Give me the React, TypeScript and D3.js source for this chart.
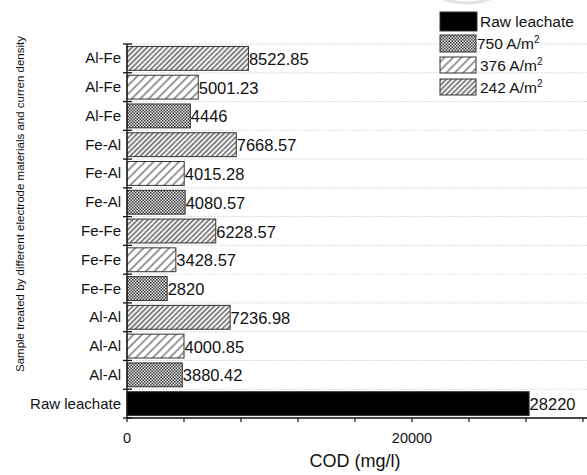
import React from 'react';
import * as d3 from 'd3';

const categories = ['Al-Fe', 'Al-Fe', 'Al-Fe', 'Fe-Al', 'Fe-Al', 'Fe-Al', 'Fe-Fe', 'Fe-Fe', 'Fe-Fe', 'Al-Al', 'Al-Al', 'Al-Al', 'Raw leachate'];
const codValues = [8522.85, 5001.23, 4446, 7668.57, 4015.28, 4080.57, 6228.57, 3428.57, 2820, 7236.98, 4000.85, 3880.42, 28220];
const valueLabels = ['8522.85', '5001.23', '4446', '7668.57', '4015.28', '4080.57', '6228.57', '3428.57', '2820', '7236.98', '4000.85', '3880.42', '28220'];
const seriesOf = ['242', '376', '750', '242', '376', '750', '242', '376', '750', '242', '376', '750', 'raw'];
const legendKeys = ['raw', '750', '376', '242'];
const legendLabels = ['Raw leachate', '750 A/m', '376 A/m', '242 A/m'];
const xTicks = [0, 4000, 8000, 12000, 16000, 20000, 24000, 28000, 32000];
const xTickLabels = [0, 20000];

const FONT = '"Liberation Sans", Arial, Helvetica, sans-serif';

const fillFor = (k: string) => (k === 'raw' ? '#000' : `url(#pat${k})`);

export default function App() {
  const width = 587;
  const height = 475;

  const x = d3.scaleLinear().domain([0, 32500]).range([127, 590.1]);
  const y = d3
    .scaleBand<number>()
    .domain(d3.range(categories.length))
    .range([44, 418])
    .paddingInner(0.17)
    .paddingOuter(0.085);
  const step = y.step();
  const boundaries = d3.range(categories.length + 1).map((i) => 44 + i * step);

  const legendY = [12, 35, 57, 79];
  const legendH = [19, 17, 16, 16];

  return (
    <svg
      width={width}
      height={height}
      style={{ position: 'absolute', left: 0, top: 0, background: '#fff' }}
      fontFamily={FONT}
    >
      <defs>
        <pattern id="pat242" patternUnits="userSpaceOnUse" width="3.6" height="3.6" patternTransform="rotate(45)">
          <rect width="3.6" height="3.6" fill="#f4f4f4" />
          <line x1="0.8" y1="0" x2="0.8" y2="3.6" stroke="#555" strokeWidth="1.3" />
        </pattern>
        <pattern id="pat376" patternUnits="userSpaceOnUse" width="6" height="6" patternTransform="rotate(45)">
          <rect width="6" height="6" fill="#fff" />
          <line x1="1" y1="0" x2="1" y2="6" stroke="#555" strokeWidth="1.2" />
        </pattern>
        <pattern id="pat750" patternUnits="userSpaceOnUse" width="3" height="3">
          <rect width="3" height="3" fill="#dedede" />
          <rect x="0" y="0" width="1.5" height="1.5" fill="#444" />
          <rect x="1.5" y="1.5" width="1.5" height="1.5" fill="#444" />
        </pattern>
      </defs>

      {/* faint arc at the top */}
      <ellipse cx={467} cy={-22} rx={42} ry={25} fill="none" stroke="#e2e2e2" strokeWidth={3} />

      {/* dotted grid */}
      {boundaries.map((b, i) => (
        <line key={'g' + i} x1={127} x2={width} y1={b} y2={b} stroke="#cfcfcf" strokeWidth={1} strokeDasharray="1.5,1.5" />
      ))}

      {/* bars */}
      {codValues.map((v, i) => (
        <rect
          key={'b' + i}
          x={x(0)}
          y={y(i)}
          width={x(v) - x(0)}
          height={y.bandwidth()}
          fill={fillFor(seriesOf[i])}
          stroke="#333"
          strokeWidth={1}
        />
      ))}

      {/* value labels */}
      {codValues.map((v, i) => (
        <text key={'v' + i} x={x(v) + 0.5} y={(y(i) ?? 0) + y.bandwidth() / 2 + 6.5} fontSize={16.5} fill="#111">
          {valueLabels[i]}
        </text>
      ))}

      {/* category labels */}
      {categories.map((c, i) => (
        <text key={'c' + i} x={121} y={(y(i) ?? 0) + y.bandwidth() / 2 + 5} fontSize={15} textAnchor="end" fill="#111">
          {c}
        </text>
      ))}

      {/* y axis */}
      <line x1={127} x2={127} y1={44} y2={418} stroke="#111" strokeWidth={1.3} />
      {boundaries.map((b, i) => (
        <line key={'yt' + i} x1={123} x2={132} y1={b} y2={b} stroke="#111" strokeWidth={1.3} />
      ))}

      {/* x axis */}
      <line x1={127} x2={width} y1={418} y2={418} stroke="#111" strokeWidth={1.3} />
      {xTicks.map((t) => (
        <line key={'xt' + t} x1={x(t)} x2={x(t)} y1={418} y2={422} stroke="#111" strokeWidth={1.2} />
      ))}
      {xTickLabels.map((t) => (
        <text key={'xl' + t} x={x(t)} y={443} fontSize={14.5} textAnchor="middle" fill="#111">
          {t}
        </text>
      ))}
      <text x={355} y={467} fontSize={18} textAnchor="middle" fill="#111">
        COD (mg/l)
      </text>

      <text
        transform="translate(24,204) rotate(-90)"
        fontSize={11.5}
        textAnchor="middle"
        fill="#111"
      >
        Sample treated by different electrode materials and curren density
      </text>

      {/* legend */}
      {legendKeys.map((k, i) => (
        <g key={'l' + k}>
          <rect x={440} y={legendY[i]} width={i === 0 ? 37 : 36} height={legendH[i]} fill={fillFor(k)} stroke="#333" strokeWidth={1} />
          <text x={i === 1 ? 477 : 480} y={legendY[i] + legendH[i] / 2 + 5.5} fontSize={15.5} fill="#111">
            {legendLabels[i]}
            {i > 0 ? (
              <tspan fontSize={10} dy={-6}>
                2
              </tspan>
            ) : null}
          </text>
        </g>
      ))}
    </svg>
  );
}
